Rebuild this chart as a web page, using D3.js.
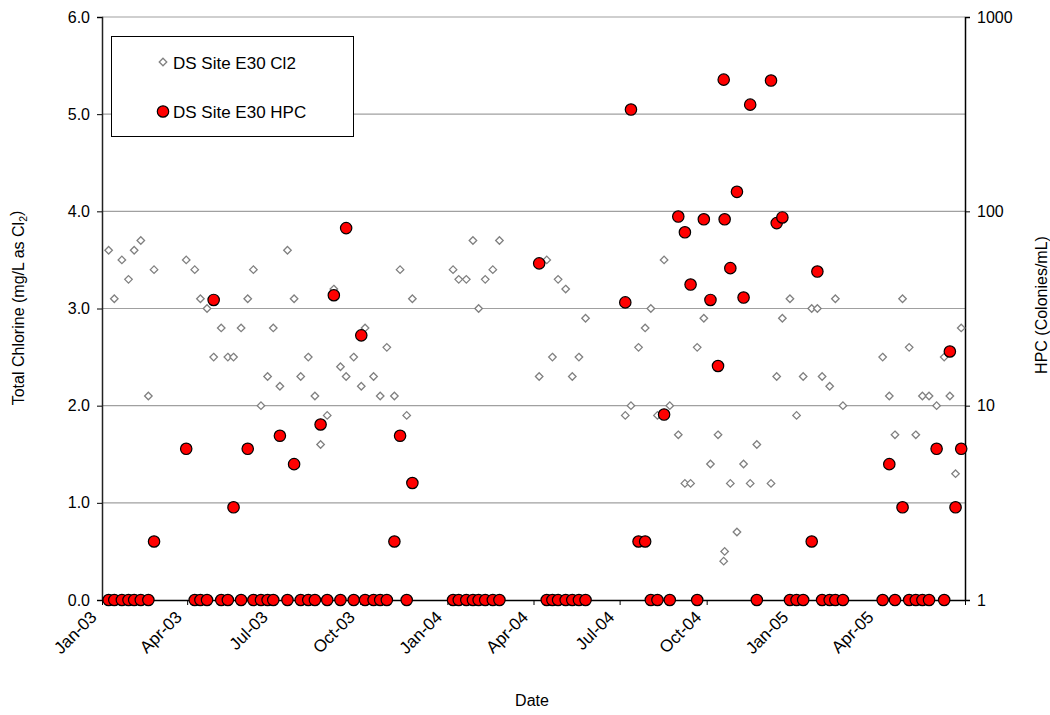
<!DOCTYPE html>
<html><head><meta charset="utf-8">
<script src="https://cdn.jsdelivr.net/npm/d3@7"></script>
<style>body{margin:0;background:#fff;} svg{display:block;font-family:"Liberation Sans",Arial,sans-serif;}</style>
</head><body><svg id="c" width="1050" height="715"></svg>
<script>
const dates = ["2003-01-08","2003-01-14","2003-01-22","2003-01-29","2003-02-04","2003-02-11","2003-02-19","2003-02-25",
"2003-03-31","2003-04-09","2003-04-15","2003-04-22","2003-04-29","2003-05-07","2003-05-14","2003-05-20","2003-05-28",
"2003-06-04","2003-06-10","2003-06-18","2003-06-25","2003-07-01","2003-07-08","2003-07-16","2003-07-23","2003-07-30",
"2003-08-07","2003-08-14","2003-08-20","2003-08-27","2003-09-03","2003-09-10","2003-09-16","2003-09-24","2003-10-02",
"2003-10-06","2003-10-15","2003-10-22","2003-10-29","2003-11-06","2003-11-12","2003-11-19","2003-11-25",
"2004-01-07","2004-01-13","2004-01-21","2004-01-28","2004-02-03","2004-02-10","2004-02-18","2004-02-25",
"2004-04-07","2004-04-15","2004-04-21","2004-04-27","2004-05-05","2004-05-12","2004-05-19","2004-05-26",
"2004-07-07","2004-07-13","2004-07-21","2004-07-28","2004-08-03","2004-08-10","2004-08-17","2004-08-23",
"2004-09-01","2004-09-08","2004-09-14","2004-09-21","2004-09-28","2004-10-05","2004-10-13","2004-10-19","2004-10-20",
"2004-10-26","2004-11-02","2004-11-09","2004-11-16","2004-11-23","2004-12-08","2004-12-14","2004-12-20","2004-12-28",
"2005-01-04","2005-01-11","2005-01-20","2005-01-26","2005-01-31","2005-02-08","2005-02-14","2005-02-22",
"2005-04-05","2005-04-12","2005-04-18","2005-04-26","2005-05-03","2005-05-10","2005-05-17","2005-05-24",
"2005-06-01","2005-06-09","2005-06-15","2005-06-21","2005-06-27"];
const cl2 = [3.6,3.1,3.5,3.3,3.6,3.7,2.1,3.4,
3.5,3.4,3.1,3.0,2.5,2.8,2.5,2.5,2.8,
3.1,3.4,2.0,2.3,2.8,2.2,3.6,3.1,2.3,
2.5,2.1,1.6,1.9,3.2,2.4,2.3,2.5,2.2,
2.8,2.3,2.1,2.6,2.1,3.4,1.9,3.1,
3.4,3.3,3.3,3.7,3.0,3.3,3.4,3.7,
2.3,3.5,2.5,3.3,3.2,2.3,2.5,2.9,
1.9,2.0,2.6,2.8,3.0,1.9,3.5,2.0,
1.7,1.2,1.2,2.6,2.9,1.4,1.7,0.4,0.5,
1.2,0.7,1.4,1.2,1.6,1.2,2.3,2.9,3.1,
1.9,2.3,3.0,3.0,2.3,2.2,3.1,2.0,
2.5,2.1,1.7,3.1,2.6,1.7,2.1,2.1,
2.0,2.5,2.1,1.3,2.8];
const hpc = [1,1,1,1,1,1,1,2,
6,1,1,1,35,1,1,3,1,
6,1,1,1,1,7,1,5,1,
1,1,8,1,37,1,82,1,23,
1,1,1,1,2,7,1,4,
1,1,1,1,1,1,1,1,
54,1,1,1,1,1,1,1,
34,334,2,2,1,1,9,1,
94,78,42,1,91,35,16,476,91,
51,126,36,354,1,471,87,93,1,
1,1,2,49,1,1,1,1,
1,5,1,3,1,1,1,1,
6,1,19,3,6];
const yLeftTicks = [0,1,2,3,4,5,6];
const yRightTicks = [1,10,100,1000];
const seriesNames = ["DS Site E30 Cl2","DS Site E30 HPC"];

const parse = d3.utcParse("%Y-%m-%d");
const data = dates.map((d,i)=>({date:parse(d), cl2:cl2[i], hpc:hpc[i]}));
const svg = d3.select("#c");
const L=102, R=965, T=17, B=600;
const x = d3.scaleUtc().domain([parse("2003-01-01"), parse("2005-07-01")]).range([L,R]);
const yL = d3.scaleLinear().domain([0,6]).range([B,T]);
const yR = d3.scaleLog().domain([1,1000]).range([B,T]);
const FS = 16;
const FF = "Liberation Sans, Arial, sans-serif";

// gridlines
svg.append("g").selectAll("line").data(yLeftTicks.filter(d=>d>0)).join("line")
  .attr("x1",L).attr("x2",R).attr("y1",d=>yL(d)).attr("y2",d=>yL(d))
  .attr("stroke","#a0a0a0").attr("stroke-width",1.2);

// left axis
const gl = svg.append("g").attr("transform",`translate(${L},0)`)
  .call(d3.axisLeft(yL).tickValues(yLeftTicks).tickFormat(d3.format(".1f")).tickSize(5).tickPadding(7));
gl.select(".domain").attr("stroke","#222").attr("stroke-width",1.5);
gl.selectAll("text").attr("font-size",FS).attr("font-family",FF).attr("fill","#000");
// right axis
const gr = svg.append("g").attr("transform",`translate(${R},0)`)
  .call(d3.axisRight(yR).tickValues(yRightTicks).tickFormat(d3.format("d")).tickSize(5).tickPadding(7));
gr.select(".domain").attr("stroke","#000").attr("stroke-width",1.5);
gr.selectAll("text").attr("font-size",FS).attr("font-family",FF).attr("fill","#000");
// x axis
const xt = d3.utcMonth.every(3).range(parse("2003-01-01"), parse("2005-07-02"));
const gx = svg.append("g").attr("transform",`translate(0,${B})`)
  .call(d3.axisBottom(x).tickValues(xt).tickFormat(d=>d3.utcFormat("%b-%y")(d)).tickSize(5).tickSizeOuter(0));
gx.select(".domain").attr("stroke","#000").attr("stroke-width",1.5);
gx.selectAll("text").attr("font-size",17).attr("font-family",FF).attr("fill","#000")
  .attr("text-anchor","end").attr("x",0).attr("y",0).attr("dy","0.35em")
  .attr("transform","translate(-9,14) rotate(-45)")
  .text(d=> d.getTime()===parse("2005-07-01").getTime() ? "" : d3.utcFormat("%b-%y")(d));

// Cl2 diamonds
const dsym = d3.symbol().type(d3.symbolDiamond2).size(36);
svg.append("g").selectAll("path").data(data).join("path")
  .attr("d",dsym).attr("transform",d=>`translate(${x(d.date)},${yL(d.cl2)})`)
  .attr("fill","#fff").attr("stroke","#808080").attr("stroke-width",1.3);
// HPC circles
svg.append("g").selectAll("circle").data(data).join("circle")
  .attr("cx",d=>x(d.date)).attr("cy",d=>yR(d.hpc)).attr("r",5.7)
  .attr("fill","#ff0000").attr("stroke","#000").attr("stroke-width",1.2);

// legend
const lg = svg.append("g");
lg.append("rect").attr("x",111.5).attr("y",36.5).attr("width",242).attr("height",100)
  .attr("fill","#fff").attr("stroke","#000").attr("stroke-width",1);
lg.append("path").attr("d",dsym).attr("transform","translate(163,62)")
  .attr("fill","#fff").attr("stroke","#808080").attr("stroke-width",1.3);
lg.append("circle").attr("cx",163).attr("cy",111.5).attr("r",5.7).attr("fill","#ff0000").attr("stroke","#000").attr("stroke-width",1.2);
lg.append("text").attr("x",173).attr("y",68.5).attr("font-size",17).text(seriesNames[0]);
lg.append("text").attr("x",173).attr("y",118).attr("font-size",17).text(seriesNames[1]);

// axis titles
const lt = svg.append("text").attr("transform","translate(24,308) rotate(-90)")
  .attr("text-anchor","middle").attr("font-size",FS);
lt.append("tspan").text("Total Chlorine (mg/L as Cl");
lt.append("tspan").attr("font-size",FS*0.65).attr("dy","0.3em").text("2");
lt.append("tspan").attr("dy","-0.3em").text(")");
svg.append("text").attr("transform","translate(1047,305) rotate(-90)")
  .attr("text-anchor","middle").attr("font-size",FS).text("HPC (Colonies/mL)");
svg.append("text").attr("x",532).attr("y",706).attr("text-anchor","middle").attr("font-size",FS).text("Date");
</script></body></html>
